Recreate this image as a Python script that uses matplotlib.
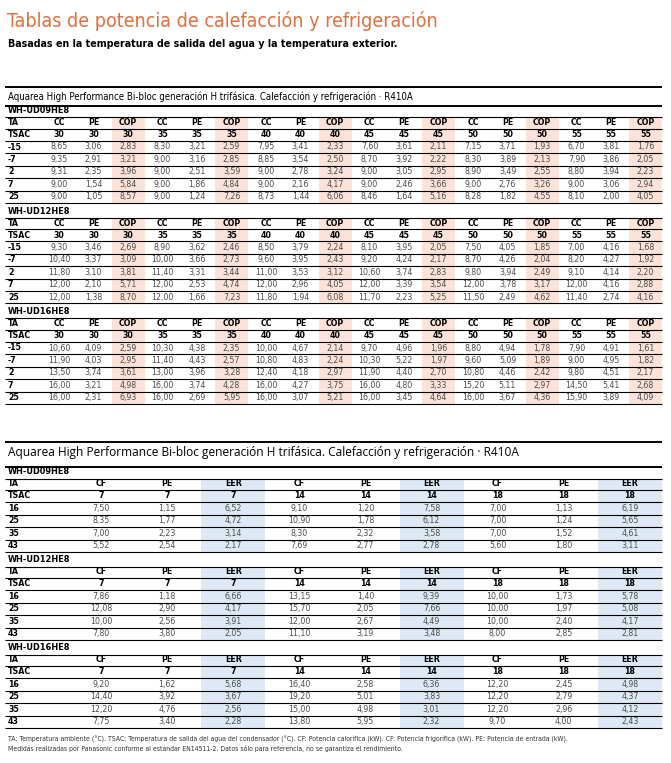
import os
import matplotlib
matplotlib.use('Agg')
import matplotlib.pyplot as plt
from matplotlib import font_manager
from matplotlib.font_manager import FontProperties
from matplotlib.patches import Rectangle


TITLE = 'Tablas de potencia de calefacción y refrigeración'
SUBTITLE = 'Basadas en la temperatura de salida del agua y la temperatura exterior.'
SECTION = 'Aquarea High Performance Bi-bloc generación H trifásica. Calefacción y refrigeración · R410A'
MODELS = ['WH-UD09HE8', 'WH-UD12HE8', 'WH-UD16HE8']
FOOTNOTE_1 = ('TA: Temperatura ambiente (°C). TSAC: Temperatura de salida del agua del condensador (°C). '
              'CF: Potencia calorífica (kW). CF: Potencia frigorífica (kW). PE: Potencia de entrada (kW).')
FOOTNOTE_2 = ('Medidas realizadas por Panasonic conforme al estándar EN14511-2. '
              'Datos sólo para referencia, no se garantiza el rendimiento.')

# heating
HEAT_HEADS = ['CC', 'PE', 'COP']
HEAT_TSAC = [30, 35, 40, 45, 50, 55]
HEAT_TA = ['-15', '-7', '2', '7', '25']

UD09_HEAT = [
    [8.65, 3.06, 2.83, 8.30, 3.21, 2.59, 7.95, 3.41, 2.33, 7.60, 3.61, 2.11, 7.15, 3.71, 1.93, 6.70, 3.81, 1.76],
    [9.35, 2.91, 3.21, 9.00, 3.16, 2.85, 8.85, 3.54, 2.50, 8.70, 3.92, 2.22, 8.30, 3.89, 2.13, 7.90, 3.86, 2.05],
    [9.31, 2.35, 3.96, 9.00, 2.51, 3.59, 9.00, 2.78, 3.24, 9.00, 3.05, 2.95, 8.90, 3.49, 2.55, 8.80, 3.94, 2.23],
    [9.00, 1.54, 5.84, 9.00, 1.86, 4.84, 9.00, 2.16, 4.17, 9.00, 2.46, 3.66, 9.00, 2.76, 3.26, 9.00, 3.06, 2.94],
    [9.00, 1.05, 8.57, 9.00, 1.24, 7.26, 8.73, 1.44, 6.06, 8.46, 1.64, 5.16, 8.28, 1.82, 4.55, 8.10, 2.00, 4.05],
]
UD12_HEAT = [
    [9.30, 3.46, 2.69, 8.90, 3.62, 2.46, 8.50, 3.79, 2.24, 8.10, 3.95, 2.05, 7.50, 4.05, 1.85, 7.00, 4.16, 1.68],
    [10.40, 3.37, 3.09, 10.00, 3.66, 2.73, 9.60, 3.95, 2.43, 9.20, 4.24, 2.17, 8.70, 4.26, 2.04, 8.20, 4.27, 1.92],
    [11.80, 3.10, 3.81, 11.40, 3.31, 3.44, 11.00, 3.53, 3.12, 10.60, 3.74, 2.83, 9.80, 3.94, 2.49, 9.10, 4.14, 2.20],
    [12.00, 2.10, 5.71, 12.00, 2.53, 4.74, 12.00, 2.96, 4.05, 12.00, 3.39, 3.54, 12.00, 3.78, 3.17, 12.00, 4.16, 2.88],
    [12.00, 1.38, 8.70, 12.00, 1.66, 7.23, 11.80, 1.94, 6.08, 11.70, 2.23, 5.25, 11.50, 2.49, 4.62, 11.40, 2.74, 4.16],
]
UD16_HEAT = [
    [10.60, 4.09, 2.59, 10.30, 4.38, 2.35, 10.00, 4.67, 2.14, 9.70, 4.96, 1.96, 8.80, 4.94, 1.78, 7.90, 4.91, 1.61],
    [11.90, 4.03, 2.95, 11.40, 4.43, 2.57, 10.80, 4.83, 2.24, 10.30, 5.22, 1.97, 9.60, 5.09, 1.89, 9.00, 4.95, 1.82],
    [13.50, 3.74, 3.61, 13.00, 3.96, 3.28, 12.40, 4.18, 2.97, 11.90, 4.40, 2.70, 10.80, 4.46, 2.42, 9.80, 4.51, 2.17],
    [16.00, 3.21, 4.98, 16.00, 3.74, 4.28, 16.00, 4.27, 3.75, 16.00, 4.80, 3.33, 15.20, 5.11, 2.97, 14.50, 5.41, 2.68],
    [16.00, 2.31, 6.93, 16.00, 2.69, 5.95, 16.00, 3.07, 5.21, 16.00, 3.45, 4.64, 16.00, 3.67, 4.36, 15.90, 3.89, 4.09],
]

# cooling
COOL_HEADS = ['CF', 'PE', 'EER']
COOL_TSAC = [7, 14, 18]
COOL_TA = ['16', '25', '35', '43']

UD09_COOL = [
    [7.50, 1.15, 6.52, 9.10, 1.20, 7.58, 7.00, 1.13, 6.19],
    [8.35, 1.77, 4.72, 10.90, 1.78, 6.12, 7.00, 1.24, 5.65],
    [7.00, 2.23, 3.14, 8.30, 2.32, 3.58, 7.00, 1.52, 4.61],
    [5.52, 2.54, 2.17, 7.69, 2.77, 2.78, 5.60, 1.80, 3.11],
]
UD12_COOL = [
    [7.86, 1.18, 6.66, 13.15, 1.40, 9.39, 10.00, 1.73, 5.78],
    [12.08, 2.90, 4.17, 15.70, 2.05, 7.66, 10.00, 1.97, 5.08],
    [10.00, 2.56, 3.91, 12.00, 2.67, 4.49, 10.00, 2.40, 4.17],
    [7.80, 3.80, 2.05, 11.10, 3.19, 3.48, 8.00, 2.85, 2.81],
]
UD16_COOL = [
    [9.20, 1.62, 5.68, 16.40, 2.58, 6.36, 12.20, 2.45, 4.98],
    [14.40, 3.92, 3.67, 19.20, 5.01, 3.83, 12.20, 2.79, 4.37],
    [12.20, 4.76, 2.56, 15.00, 4.98, 3.01, 12.20, 2.96, 4.12],
    [7.75, 3.40, 2.28, 13.80, 5.95, 2.32, 9.70, 4.00, 2.43],
]

ORANGE = '#E0703F'
PINK = '#FCE3D9'
BLUE = '#DDEAF5'
GREY = '#4d4d4d'


def pick_fonts():
    # prefer a condensed face (closer to the DIN look of the original)
    files = {os.path.basename(f.fname): f.fname for f in font_manager.fontManager.ttflist}
    for reg, bold in [('LiberationSansNarrow-Regular.ttf', 'LiberationSansNarrow-Bold.ttf'),
                      ('DejaVuSansCondensed.ttf', 'DejaVuSansCondensed-Bold.ttf')]:
        if reg in files and bold in files:
            return FontProperties(fname=files[reg]), FontProperties(fname=files[bold])
    return FontProperties(family='Liberation Sans'), FontProperties(family='Liberation Sans', weight='bold')


FP_REG, FP_BOLD = pick_fonts()
names = {f.name for f in font_manager.fontManager.ttflist}
REGULAR = 'Open Sans' if 'Open Sans' in names else 'DejaVu Sans'
CELL_SIZE = 6.3


def fp(bold=False, size=CELL_SIZE):
    p = (FP_BOLD if bold else FP_REG).copy()
    p.set_size(size)
    return p


def fmt(v):
    return f'{v:.2f}'.replace('.', ',')


def fit_text(fig, ax, x, y, s, width, prop, **kw):
    # scale the font so the line spans the same width as in the original
    t = ax.text(x, y, s, fontproperties=prop, **kw)
    w = t.get_window_extent(fig.canvas.get_renderer()).width
    prop = prop.copy()
    prop.set_size(prop.get_size() * width / w)
    t.set_fontproperties(prop)
    return t


def draw_block(ax, y0, model, heads, tsac, ta_labels, values, xs, shade_color, shade_w):
    y_ta = y0 + 12
    y_ts = y0 + 24
    y_rows = [y0 + 36.5 + 12.4 * i for i in range(len(ta_labels))]
    y_top = y0 + 6.5
    y_bot = y_rows[-1] + 6.3
    n = len(heads)

    for c in range(n - 1, len(xs), n):
        ax.add_patch(Rectangle((xs[c] - shade_w / 2, y_top), shade_w, y_bot - y_top,
                               facecolor=shade_color, linewidth=0, zorder=0))

    ax.text(8, y0, model, fontproperties=fp(True, 6.6), va='center')
    ax.text(8, y_ta, 'TA', fontproperties=fp(True), va='center')
    ax.text(8, y_ts, 'TSAC', fontproperties=fp(True), va='center')
    for i, x in enumerate(xs):
        ax.text(x, y_ta, heads[i % n], fontproperties=fp(True), ha='center', va='center')
        ax.text(x, y_ts, str(tsac[i // n]), fontproperties=fp(True), ha='center', va='center')
    for r, y in enumerate(y_rows):
        ax.text(8, y, ta_labels[r], fontproperties=fp(True), va='center')
        for i, x in enumerate(xs):
            ax.text(x, y, fmt(values[r][i]), fontproperties=fp(), color=GREY,
                    ha='center', va='center')

    for y in [y_top, y_ta + 6.3, y_ts + 6.3] + [y + 6.3 for y in y_rows]:
        ax.hlines(y, 5, 662, color='black', linewidth=0.8)


fig = plt.figure(figsize=(6.71, 7.63), dpi=100)
ax = fig.add_axes([0, 0, 1, 1])
ax.set_xlim(0, 671)
ax.set_ylim(763, 0)
ax.axis('off')

fit_text(fig, ax, 7, 21, TITLE, 431, fp(False, 14), color=ORANGE, va='center')
fit_text(fig, ax, 8, 44, SUBTITLE, 394, fp(True, 8), va='center')

# heating table
ax.hlines([87, 106], 5, 662, color='black', linewidth=1.4)
fit_text(fig, ax, 8, 96.5, SECTION, 405, fp(False, 7.5), va='center')
heat_xs = [59 + 34.5 * i for i in range(18)]
for y0, model, vals in zip([110.5, 211, 311.5], MODELS, [UD09_HEAT, UD12_HEAT, UD16_HEAT]):
    draw_block(ax, y0, model, HEAT_HEADS, HEAT_TSAC, HEAT_TA, vals, heat_xs, PINK, 33)

# cooling table
ax.hlines([442, 467], 5, 662, color='black', linewidth=1.4)
fit_text(fig, ax, 8, 452.5, SECTION, 514, FontProperties(family=REGULAR, size=7.5), va='center')
cool_xs = [101 + 66.1 * i for i in range(9)]
for y0, model, vals in zip([472, 560, 648], MODELS, [UD09_COOL, UD12_COOL, UD16_COOL]):
    draw_block(ax, y0, model, COOL_HEADS, COOL_TSAC, COOL_TA, vals, cool_xs, BLUE, 64)

note = fit_text(fig, ax, 8, 739, FOOTNOTE_1, 565, fp(False, 5), color='#333333', va='center')
ax.text(8, 749, FOOTNOTE_2, fontproperties=note.get_fontproperties(), color='#333333', va='center')

fig.savefig('out.png', dpi=100)
plt.close(fig)
